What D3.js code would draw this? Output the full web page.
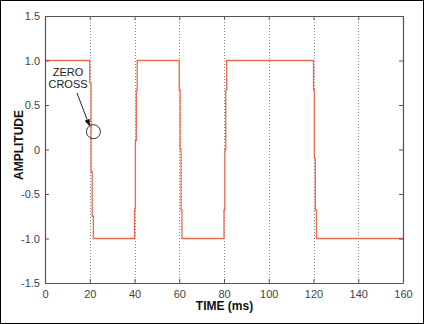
<!DOCTYPE html>
<html><head><meta charset="utf-8">
<script src="https://cdn.jsdelivr.net/npm/d3@7"></script>
<style>body{margin:0;background:#fff}svg{display:block}</style>
</head><body>
<script>
// Step-sampled waveform: value holds from each time until the next one
const times = [0, 20, 20.6, 21.1, 21.6, 40, 40.4, 40.8, 41.2, 60, 60.4, 60.8, 61.2, 80, 80.4, 80.8, 81.2, 120, 120.4, 120.8, 121.3, 160];
const amplitude = [1, 0.75, -0.25, -0.75, -1, -0.67, 0.1, 0.67, 1, 0.67, 0, -0.68, -1, -0.68, 0, 0.67, 1, 0.67, -0.1, -0.68, -1, -1];
const xTicks = [0, 20, 40, 60, 80, 100, 120, 140, 160];
const yTicks = [1.5, 1.0, 0.5, 0, -0.5, -1.0, -1.5];
const yTickLabels = ["1.5", "1.0", "0.5", "0", "-0.5", "-1.0", "-1.5"];
const gridTimes = [20, 40, 60, 80, 100, 120, 140];
const annotationLines = ["ZERO", "CROSS"];
const annotationPoint = [21.2, 0.2];

const W = 424, H = 324;
const m = {left: 45, right: 21, top: 16, bottom: 41};
const svg = d3.select("body").append("svg").attr("width", W).attr("height", H);
svg.append("rect").attr("x", 0.5).attr("y", 0.5).attr("width", W - 1).attr("height", H - 1)
  .attr("fill", "#fff").attr("stroke", "#000").attr("stroke-width", 1);

const x = d3.scaleLinear().domain([0, 160]).range([m.left, W - m.right]);
const y = d3.scaleLinear().domain([-1.5, 1.5]).range([H - m.bottom, m.top]);
const font = "Liberation Sans, Arial, Helvetica, sans-serif";

// grid
svg.append("g").selectAll("line").data(gridTimes).join("line")
  .attr("x1", d => Math.round(x(d)) + 0.5).attr("x2", d => Math.round(x(d)) + 0.5)
  .attr("y1", y(1.5)).attr("y2", y(-1.5))
  .attr("stroke", "#8a8a8a").attr("stroke-width", 1).attr("stroke-dasharray", "1,2");

// signal
const pts = times.map((t, i) => [t, amplitude[i]]);
svg.append("path").datum(pts)
  .attr("d", d3.line().x(d => x(d[0])).y(d => y(d[1])).curve(d3.curveStepAfter))
  .attr("fill", "none").attr("stroke", "#ec6a4f").attr("stroke-width", 1.3);

// axes with inward ticks
const axisColor = "#555";
const gB = svg.append("g").attr("transform", `translate(0,${y(-1.5)})`)
  .call(d3.axisBottom(x).tickValues(xTicks).tickSizeInner(-4).tickSizeOuter(0).tickPadding(7));
const gT = svg.append("g").attr("transform", `translate(0,${y(1.5)})`)
  .call(d3.axisTop(x).tickValues(xTicks).tickSizeInner(-4).tickSizeOuter(0).tickFormat(""));
const gL = svg.append("g").attr("transform", `translate(${x(0)},0)`)
  .call(d3.axisLeft(y).tickValues(yTicks).tickFormat((d, i) => yTickLabels[i]).tickSizeInner(-4).tickSizeOuter(0).tickPadding(5));
const gR = svg.append("g").attr("transform", `translate(${x(160)},0)`)
  .call(d3.axisRight(y).tickValues(yTicks).tickSizeInner(-4).tickSizeOuter(0).tickFormat(""));
[gB, gT, gL, gR].forEach(g => {
  g.selectAll("path.domain").attr("stroke", axisColor).attr("stroke-width", 1.2);
  g.selectAll(".tick line").attr("stroke", axisColor);
  g.selectAll("text").attr("fill", "#444").style("font-family", font).style("font-size", "11px");
});

// axis titles
svg.append("text").attr("x", 224.5).attr("y", 310).attr("text-anchor", "middle")
  .style("font-family", font).style("font-size", "12px").style("font-weight", "bold").attr("fill", "#111")
  .text("TIME (ms)");
svg.append("text").attr("transform", "translate(23,145) rotate(-90)").attr("text-anchor", "middle")
  .style("font-family", font).style("font-size", "12px").style("font-weight", "bold").attr("fill", "#111")
  .text("AMPLITUDE");

// annotation
svg.append("defs").append("marker").attr("id", "ah").attr("viewBox", "0 0 10 10")
  .attr("refX", 9).attr("refY", 5).attr("markerWidth", 7).attr("markerHeight", 7).attr("orient", "auto")
  .append("path").attr("d", "M0,1 L10,5 L0,9 Z").attr("fill", "#111");
const ann = svg.append("text").attr("text-anchor", "middle")
  .style("font-family", font).style("font-size", "11px").attr("fill", "#222");
annotationLines.forEach((s, i) => ann.append("tspan").attr("x", 68).attr("y", 76 + i * 12).text(s));
const cx = x(annotationPoint[0]), cy = y(annotationPoint[1]);
svg.append("line").attr("x1", 77).attr("y1", 93).attr("x2", cx - 3).attr("y2", cy - 6)
  .attr("stroke", "#222").attr("stroke-width", 1).attr("marker-end", "url(#ah)");
svg.append("circle").attr("cx", cx + 1).attr("cy", cy).attr("r", 7)
  .attr("fill", "none").attr("stroke", "#333").attr("stroke-width", 1);
</script>
</body></html>
